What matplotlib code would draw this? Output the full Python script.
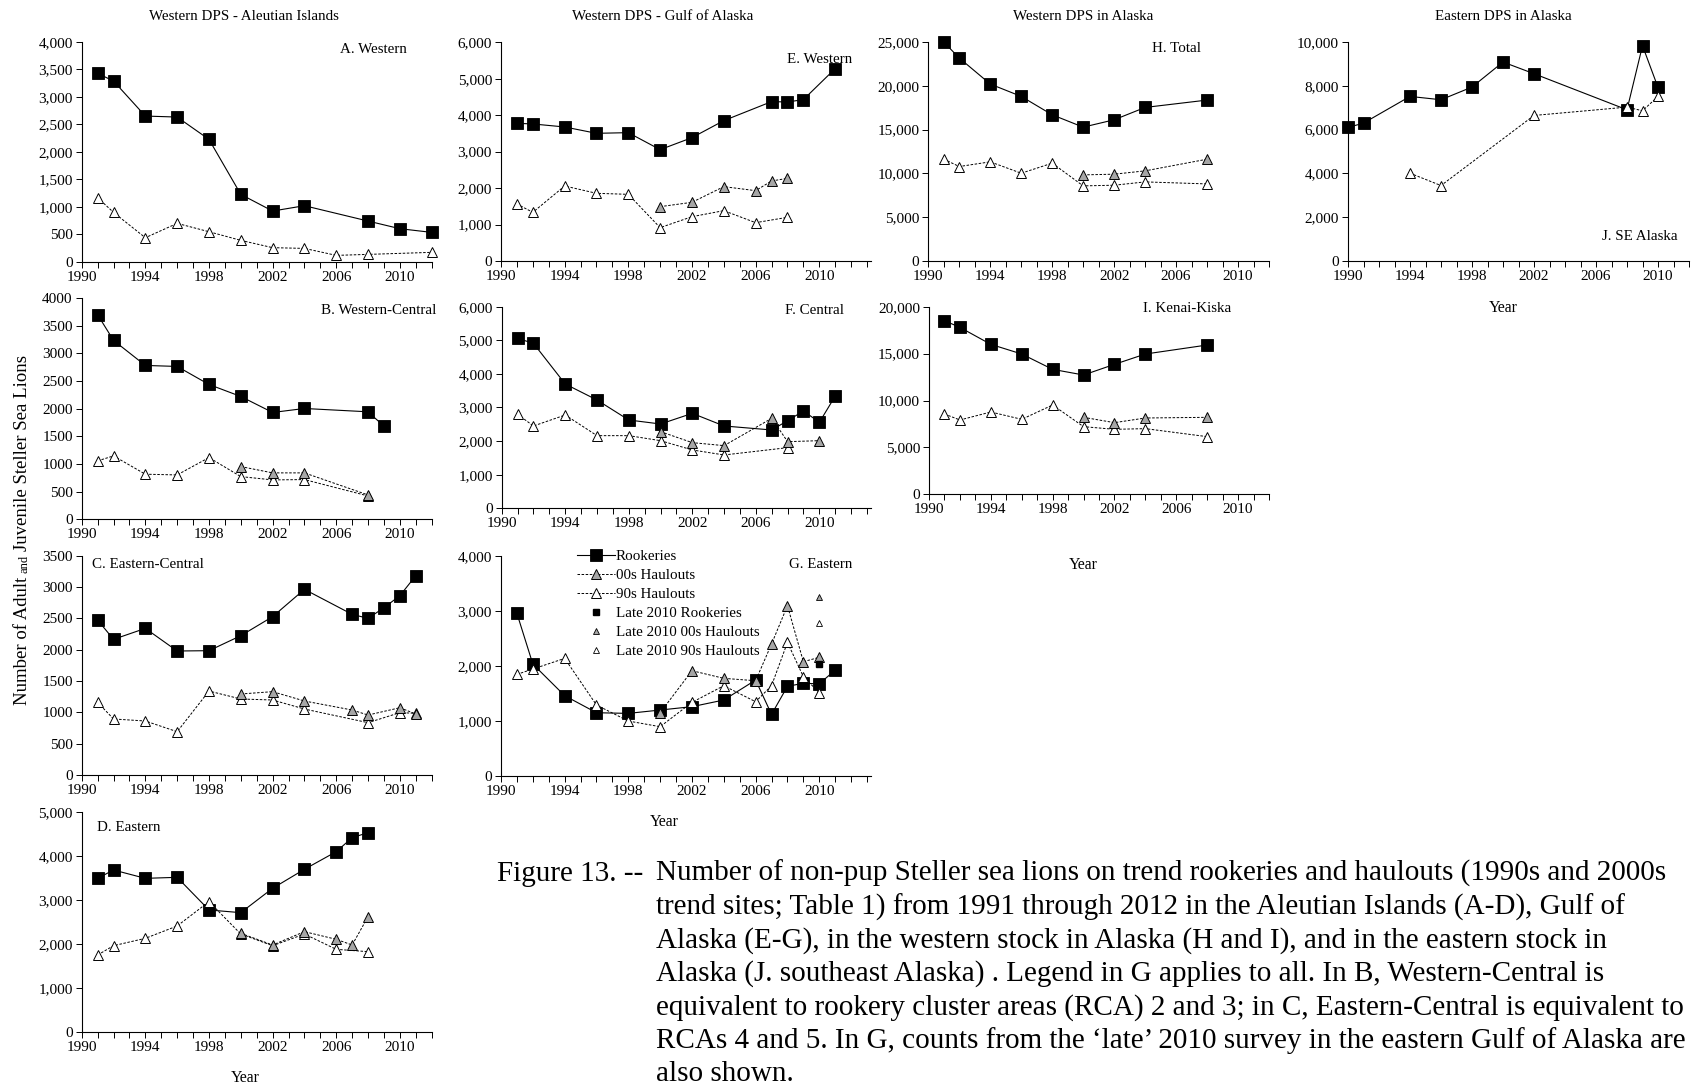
import matplotlib
matplotlib.use("Agg")
import matplotlib.pyplot as plt
from matplotlib.lines import Line2D
from matplotlib.ticker import FuncFormatter
import numpy as np

plt.rcParams['font.family'] = ['Liberation Serif', 'DejaVu Serif']

# ---- counts (non-pup), read per panel: (years, counts) ----
# A. Western Aleutians
a_rook_yr = [1991, 1992, 1994, 1996, 1998, 2000, 2002, 2004, 2008, 2010, 2012]
a_rook = [3424, 3285, 2648, 2630, 2224, 1224, 921, 1018, 739, 600, 533]
a_h90_yr = [1991, 1992, 1994, 1996, 1998, 2000, 2002, 2004, 2006, 2008, 2012]
a_h90 = [1164, 897, 436, 697, 545, 388, 255, 242, 115, 133, 170]

# B. Western-Central Aleutians
b_rook_yr = [1991, 1992, 1994, 1996, 1998, 2000, 2002, 2004, 2008, 2009]
b_rook = [3698, 3234, 2781, 2763, 2437, 2220, 1931, 2003, 1943, 1683]
b_h90_yr = [1991, 1992, 1994, 1996, 1998, 2000, 2002, 2004, 2008]
b_h90 = [1056, 1146, 815, 802, 1116, 772, 712, 718, 422]
b_h00_yr = [2000, 2002, 2004, 2008]
b_h00 = [953, 839, 839, 440]

# C. Eastern-Central Aleutians
c_rook_yr = [1991, 1992, 1994, 1996, 1998, 2000, 2002, 2004, 2007, 2008, 2009, 2010, 2011]
c_rook = [2473, 2165, 2340, 1979, 1984, 2223, 2527, 2963, 2564, 2500, 2670, 2862, 3181]
c_h90_yr = [1991, 1992, 1994, 1996, 1998, 2000, 2002, 2004, 2008, 2010, 2011]
c_h90 = [1160, 894, 862, 691, 1340, 1213, 1197, 1053, 835, 995, 985]
c_h00_yr = [2000, 2002, 2004, 2007, 2008, 2010, 2011]
c_h00 = [1293, 1330, 1181, 1037, 957, 1074, 973]

# D. Eastern Aleutians
d_rook_yr = [1991, 1992, 1994, 1996, 1998, 2000, 2002, 2004, 2006, 2007, 2008]
d_rook = [3495, 3685, 3495, 3518, 2774, 2713, 3268, 3701, 4103, 4422, 4536]
d_h90_yr = [1991, 1992, 1994, 1996, 1998, 2000, 2002, 2004, 2006, 2008]
d_h90 = [1748, 1960, 2128, 2409, 2964, 2226, 1960, 2226, 1877, 1824]
d_h00_yr = [2000, 2002, 2004, 2006, 2007, 2008]
d_h00 = [2242, 1976, 2280, 2105, 1976, 2622]

# E. Western Gulf of Alaska
e_rook_yr = [1991, 1992, 1994, 1996, 1998, 2000, 2002, 2004, 2007, 2008, 2009, 2011]
e_rook = [3777, 3760, 3677, 3503, 3521, 3055, 3384, 3851, 4372, 4363, 4427, 5278]
e_h90_yr = [1991, 1992, 1994, 1996, 1998, 2000, 2002, 2004, 2006, 2008]
e_h90 = [1564, 1335, 2058, 1857, 1829, 915, 1216, 1381, 1052, 1198]
e_h00_yr = [2000, 2002, 2004, 2006, 2007, 2008]
e_h00 = [1491, 1610, 2040, 1930, 2195, 2268]

# F. Central Gulf of Alaska
f_rook_yr = [1991, 1992, 1994, 1996, 1998, 2000, 2002, 2004, 2007, 2008, 2009, 2010, 2011]
f_rook = [5058, 4909, 3699, 3223, 2628, 2509, 2826, 2450, 2331, 2608, 2896, 2559, 3342]
f_h90_yr = [1991, 1992, 1994, 1996, 1998, 2000, 2002, 2004, 2008]
f_h90 = [2797, 2450, 2777, 2162, 2162, 2013, 1736, 1587, 1805]
f_h00_yr = [2000, 2002, 2004, 2007, 2008, 2010]
f_h00 = [2281, 1954, 1865, 2678, 1983, 2013]

# G. Eastern Gulf of Alaska
g_rook_yr = [1991, 1992, 1994, 1996, 1998, 2000, 2002, 2004, 2006, 2007, 2008, 2009, 2010, 2011]
g_rook = [2952, 2030, 1455, 1145, 1133, 1194, 1255, 1376, 1739, 1115, 1625, 1680, 1670, 1921]
g_h90_yr = [1991, 1992, 1994, 1996, 1998, 2000, 2002, 2004, 2006, 2007, 2008, 2009, 2010]
g_h90 = [1842, 1939, 2133, 1285, 994, 891, 1333, 1636, 1345, 1636, 2424, 1800, 1509]
g_h00_yr = [2000, 2002, 2004, 2006, 2007, 2008, 2009, 2010]
g_h00 = [1145, 1909, 1770, 1727, 2394, 3091, 2073, 2152]
g_late_yr = 2010
g_late_rook = 2024
g_late_h00 = 3242
g_late_h90 = 2782

# H. Western DPS total, I. Kenai-Kiska
hi_yr = [1991, 1992, 1994, 1996, 1998, 2000, 2002, 2004, 2008]
hi_h00_yr = [2000, 2002, 2004, 2008]
h_rook = [24990, 23170, 20200, 18790, 16690, 15280, 16120, 17530, 18370]
h_h90 = [11620, 10785, 11320, 10020, 11170, 8575, 8650, 9030, 8800]
h_h00 = [9830, 9910, 10290, 11620]
i_rook = [18508, 17798, 15985, 14956, 13321, 12718, 13854, 14956, 15915]
i_h90 = [8561, 7922, 8774, 7993, 9520, 7211, 6927, 7000, 6146]
i_h00 = [8206, 7638, 8135, 8206]

# J. Southeast Alaska (eastern DPS)
j_rook_yr = [1990, 1991, 1994, 1996, 1998, 2000, 2002, 2008, 2009, 2010]
j_rook = [6098, 6296, 7515, 7363, 7942, 9085, 8552, 6905, 9832, 7927]
j_h90_yr = [1994, 1996, 2002, 2008, 2009, 2010]
j_h90 = [4009, 3445, 6646, 7027, 6860, 7515]

W, H = 1696, 1087
GREY = '#a6a6a6'
DASH = (0, (2.6, 1.6))
TICK_FS = 11
LABEL_FS = 10.8
ROOK_STYLE = dict(color='black', lw=0.8, marker='s', ms=8.5, mfc='black', mec='black', mew=0.6)
H00_STYLE = dict(color='black', lw=0.7, ls=DASH, marker='^', ms=7.5, mfc=GREY, mec='black', mew=0.7)
H90_STYLE = dict(color='black', lw=0.7, ls=DASH, marker='^', ms=7.5, mfc='white', mec='black', mew=0.7)


def px_rect(x0, y0, x1, y1):
    """pixel box (top-left origin) -> figure fraction rect"""
    return [x0 / W, 1 - y1 / H, (x1 - x0) / W, (y1 - y0) / H]


def draw_panel(fig, box, rook, h90=None, h00=None, ymax=4000, ystep=500,
               xmax=2012, comma=True, label='', label_xy=(0.95, 0.95), label_ha='right'):
    ax = fig.add_axes(px_rect(*box))
    ax.plot(rook[0], rook[1], clip_on=False, zorder=3, **ROOK_STYLE)
    if h90 is not None:
        ax.plot(h90[0], h90[1], clip_on=False, zorder=4, **H90_STYLE)
    if h00 is not None:
        ax.plot(h00[0], h00[1], clip_on=False, zorder=5, **H00_STYLE)

    ax.set_xlim(1990, xmax)
    ax.set_ylim(0, ymax)
    ax.set_xticks(range(1990, 2011, 4))
    ax.set_xticks(range(1990, int(xmax) + 1), minor=True)
    ax.set_yticks(np.arange(0, ymax + 1, ystep))
    if comma:
        ax.yaxis.set_major_formatter(FuncFormatter(lambda v, p: f'{int(v):,}'))
    else:
        ax.yaxis.set_major_formatter(FuncFormatter(lambda v, p: f'{int(v)}'))
    for side in ('top', 'right'):
        ax.spines[side].set_visible(False)
    for side in ('left', 'bottom'):
        ax.spines[side].set_linewidth(0.8)
    ax.tick_params(which='both', direction='out', length=4, width=0.7, labelsize=TICK_FS, pad=2.5)
    ax.set_facecolor('none')
    ax.text(label_xy[0], label_xy[1], label, transform=ax.transAxes, ha=label_ha,
            va='center', fontsize=LABEL_FS)
    return ax


fig = plt.figure(figsize=(W / 100, H / 100), dpi=100)

# column 1: Aleutian Islands
draw_panel(fig, (81.7, 41.7, 431.7, 261.7), (a_rook_yr, a_rook), h90=(a_h90_yr, a_h90),
           ymax=4000, ystep=500, label='A. Western', label_xy=(0.928, 0.966))
draw_panel(fig, (81.7, 298, 431.7, 519.3), (b_rook_yr, b_rook), h90=(b_h90_yr, b_h90),
           h00=(b_h00_yr, b_h00), ymax=4000, ystep=500, comma=False,
           label='B. Western-Central', label_xy=(1.013, 0.943))
draw_panel(fig, (81.7, 555.7, 431.7, 775), (c_rook_yr, c_rook), h90=(c_h90_yr, c_h90),
           h00=(c_h00_yr, c_h00), ymax=3500, ystep=500, comma=False,
           label='C. Eastern-Central', label_xy=(0.029, 0.958), label_ha='left')
draw_panel(fig, (81.7, 812.3, 431.7, 1031.7), (d_rook_yr, d_rook), h90=(d_h90_yr, d_h90),
           h00=(d_h00_yr, d_h00), ymax=5000, ystep=1000,
           label='D. Eastern', label_xy=(0.043, 0.932), label_ha='left')

# column 2: Gulf of Alaska
draw_panel(fig, (501, 42.3, 871, 261), (e_rook_yr, e_rook), h90=(e_h90_yr, e_h90),
           h00=(e_h00_yr, e_h00), ymax=6000, ystep=1000, xmax=2013.25,
           label='E. Western', label_xy=(0.95, 0.922))
draw_panel(fig, (501.7, 306.7, 871, 508.3), (f_rook_yr, f_rook), h90=(f_h90_yr, f_h90),
           h00=(f_h00_yr, f_h00), ymax=6000, ystep=1000, xmax=2013.25,
           label='F. Central', label_xy=(0.927, 0.98))
ax_g = draw_panel(fig, (501, 555.7, 871, 775.7), (g_rook_yr, g_rook), h90=(g_h90_yr, g_h90),
                  h00=(g_h00_yr, g_h00), ymax=4000, ystep=1000, xmax=2013.25,
                  label='G. Eastern', label_xy=(0.95, 0.958))
ax_g.plot([g_late_yr], [g_late_rook], ls='none', marker='s', ms=4, mfc='black', mec='black', zorder=6)
ax_g.plot([g_late_yr], [g_late_h00], ls='none', marker='^', ms=4, mfc=GREY, mec='black', mew=0.6, zorder=6)
ax_g.plot([g_late_yr], [g_late_h90], ls='none', marker='^', ms=4, mfc='white', mec='black', mew=0.6, zorder=6)

# column 3: western DPS totals
draw_panel(fig, (928.3, 42, 1269, 261), (hi_yr, h_rook), h90=(hi_yr, h_h90),
           h00=(hi_h00_yr, h_h00), ymax=25000, ystep=5000,
           label='H. Total', label_xy=(0.80, 0.971))
draw_panel(fig, (929, 306.7, 1269, 494.3), (hi_yr, i_rook), h90=(hi_yr, i_h90),
           h00=(hi_h00_yr, i_h00), ymax=20000, ystep=5000,
           label='I. Kenai-Kiska', label_xy=(0.888, 0.99))

# column 4: eastern DPS
draw_panel(fig, (1348, 42, 1689, 261), (j_rook_yr, j_rook), h90=(j_h90_yr, j_h90),
           ymax=10000, ystep=2000, label='J. SE Alaska', label_xy=(0.968, 0.114))

# legend for all panels (shown in G)
handles = [
    Line2D([], [], **ROOK_STYLE),
    Line2D([], [], **H00_STYLE),
    Line2D([], [], **H90_STYLE),
    Line2D([], [], ls='none', marker='s', ms=4, mfc='black', mec='black'),
    Line2D([], [], ls='none', marker='^', ms=4, mfc=GREY, mec='black', mew=0.6),
    Line2D([], [], ls='none', marker='^', ms=4, mfc='white', mec='black', mew=0.6),
]
labels = ['Rookeries', '00s Haulouts', '90s Haulouts', 'Late 2010 Rookeries',
          'Late 2010 00s Haulouts', 'Late 2010 90s Haulouts']
fig.legend(handles, labels, loc='upper left', bbox_to_anchor=(577 / W, 1 - 550 / H),
           frameon=False, fontsize=10.8, numpoints=1, handlelength=2.5, handletextpad=0.1,
           labelspacing=0.36, borderpad=0, borderaxespad=0)

# group titles
titles = [('Western DPS - Aleutian Islands', 244), ('Western DPS - Gulf of Alaska', 663),
          ('Western DPS in Alaska', 1083), ('Eastern DPS in Alaska', 1503)]
for txt, xc in titles:
    fig.text(xc / W, 1 - 17 / H, txt, ha='center', va='center', fontsize=10.8)

# x axis titles
for xc, yc in [(245, 1078), (664, 822), (1083, 565), (1503, 308)]:
    fig.text(xc / W, 1 - yc / H, 'Year', ha='center', va='center', fontsize=11.3)

# shared y label, with a smaller "and"
fig.canvas.draw()
renderer = fig.canvas.get_renderer()
parts = [('Number of Adult', 13.5), ('and', 9), ('Juvenile Steller Sea Lions', 13.5)]
gap = 4.0
lengths = []
for s, fs in parts:
    t = fig.text(0, 0, s, fontsize=fs, rotation=90, rotation_mode='anchor',
                 ha='left', va='baseline')
    lengths.append(t.get_window_extent(renderer).height)
    t.remove()
total = sum(lengths) + gap * (len(parts) - 1)
ypos = (H - 530) - total / 2
for (s, fs), ln in zip(parts, lengths):
    fig.text(27 / W, ypos / H, s, fontsize=fs, rotation=90, rotation_mode='anchor',
             ha='left', va='baseline')
    ypos += ln + gap

# caption
caption = [
    'Number of non-pup Steller sea lions on trend rookeries and haulouts (1990s and 2000s',
    'trend sites; Table 1) from 1991 through 2012 in the Aleutian Islands (A-D), Gulf of',
    'Alaska (E-G), in the western stock in Alaska (H and I), and in the eastern stock in',
    'Alaska (J. southeast Alaska) . Legend in G applies to all. In B, Western-Central is',
    'equivalent to rookery cluster areas (RCA) 2 and 3; in C, Eastern-Central is equivalent to',
    'RCAs 4 and 5. In G, counts from the \u2018late\u2019 2010 survey in the eastern Gulf of Alaska are',
    'also shown.',
]
cap_fs = 21
fig.text(497 / W, 1 - 881 / H, 'Figure 13. --', ha='left', va='baseline', fontsize=cap_fs)
for k, line in enumerate(caption):
    fig.text(655.5 / W, 1 - (881 + 33.3 * k) / H, line, ha='left', va='baseline', fontsize=cap_fs)

fig.savefig('out.png', dpi=100, facecolor='white')
